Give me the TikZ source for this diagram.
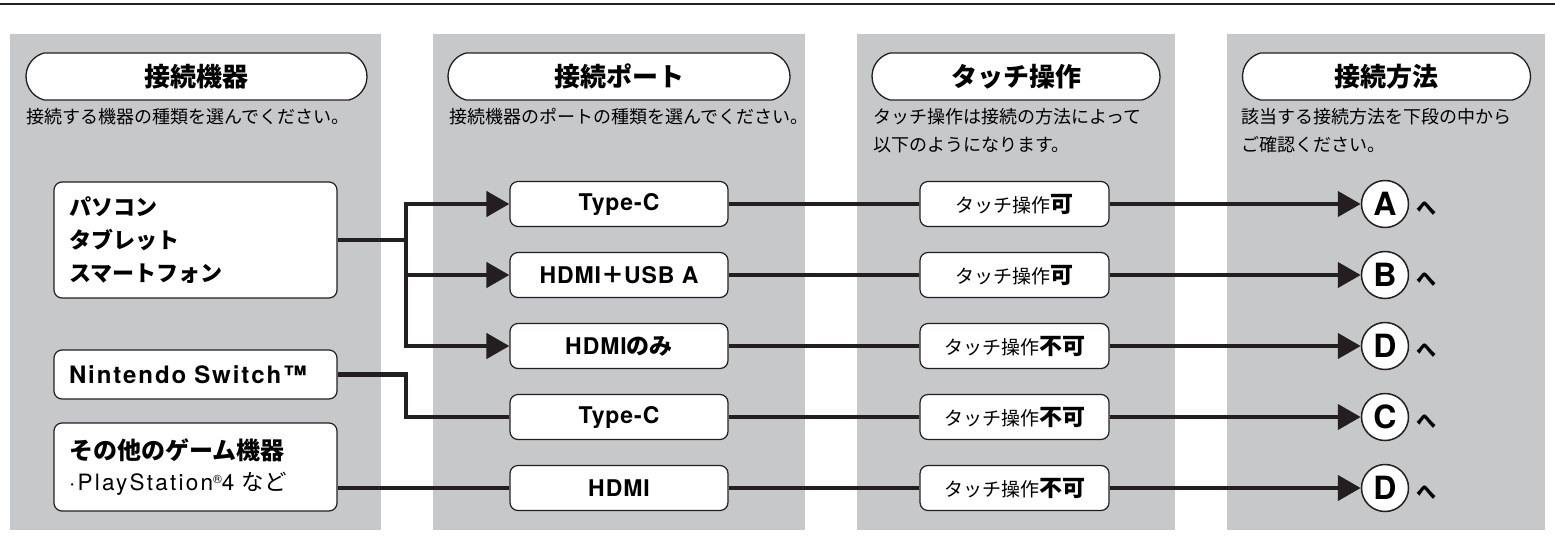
\documentclass[tikz,border=0pt]{standalone}
\usepackage{fontspec}
\setmainfont{Noto Sans CJK JP}
\newfontfamily\latfont[LetterSpace=4]{TeX Gyre Heros}
\usetikzlibrary{arrows.meta,positioning,shapes.misc}
\definecolor{panelgray}{RGB}{199,200,202}
\definecolor{ink}{RGB}{35,31,32}
\newcommand{\lat}[1]{{\latfont #1}}
\newcommand{\fsz}[1]{\fontsize{#1}{#1}\selectfont}

\begin{document}
\begin{tikzpicture}
    [x=1pt,y=-1pt,
     pill/.style={draw=ink,line width=1.3pt,fill=white,rounded rectangle,
       rounded rectangle arc length=150,minimum height=47pt,inner sep=0pt,
       font=\bfseries\fsz{26}},
     sub/.style={anchor=west,inner sep=0pt,align=left,
       font=\fontsize{18}{28}\selectfont},
     devbox/.style={draw=ink,line width=1.2pt,fill=white,rounded corners=8pt,
       inner xsep=15pt,text width=253pt,align=left},
     portbox/.style={draw=ink,line width=1.2pt,fill=white,rounded corners=8pt,
       minimum width=218pt,minimum height=45pt,inner sep=0pt,font=\bfseries\fsz{23}},
     touchbox/.style={draw=ink,line width=1.2pt,fill=white,rounded corners=8pt,
       minimum width=189pt,minimum height=45pt,inner sep=0pt},
     letter/.style={circle,draw=ink,line width=1.5pt,fill=white,minimum size=47pt,
       inner sep=0pt,font=\latfont\bfseries\fsz{32}},
     hira/.style={inner sep=0pt,font=\bfseries\fsz{20}},
     conn/.style={draw=ink,line width=4.5pt},
     arr/.style={conn,-{Triangle[length=23pt,width=25pt]}}]
    \useasboundingbox (0,0) rectangle (1555,555);
    \draw[ink,line width=2.5pt] (0,4) -- (1555,4);

    % panels
    \fill[panelgray] (10,34) rectangle (381,530);
    \fill[panelgray] (433,34) rectangle (805,530);
    \fill[panelgray] (857,34) rectangle (1175,530);
    \fill[panelgray] (1227,34) rectangle (1545,530);

    % headers
    \node[pill,minimum width=341pt] (h1) at (196.5,76.5) {接続機器};
    \node[pill,minimum width=342pt] (h2) at (619,76.5) {接続ポート};
    \node[pill,minimum width=288pt] (h3) at (1016,76.5) {タッチ操作};
    \node[pill,minimum width=288pt] (h4) at (1386.5,76.5) {接続方法};
    \node[sub] (s1) at (26,117) {接続する機器の種類を選んでください。};
    \node[sub] (s2) at (449,117) {接続機器のポートの種類を選んでください。};
    \node[sub] (s3) at (873,131) {タッチ操作は接続の方法によって\\以下のようになります。};
    \node[sub] (s4) at (1241,131) {該当する接続方法を下段の中から\\ご確認ください。};

    % devices
    \node[devbox,minimum height=116pt,font=\bfseries\fontsize{22}{33}\selectfont]
      (pc) at (195.5,240) {パソコン\\タブレット\\スマートフォン};
    \node[devbox,minimum height=49pt,font=\bfseries\fsz{24}]
      (ns) at (195.5,374.5) {\lat{\addfontfeature{LetterSpace=8}Nintendo Switch™}};
    \node[devbox,minimum height=88pt,font=\fontsize{22.5}{31}\selectfont]
      (og) at (195.5,467) {{\bfseries\fsz{24}その他のゲーム機器}\\
      \lat{\addfontfeature{LetterSpace=10}·PlayStation}{\fsz{12}\raisebox{7pt}{\lat{®}}}\lat{4} など};

    % ports
    \begin{scope}[node distance=24.8pt]
      \node[portbox] (tc) at (619,204) {\lat{Type-C}};
      \node[portbox,below=of tc] (hu) {\lat{HDMI}＋\lat{USB A}};
      \node[portbox,below=of hu] (ho) {\lat{HDMI}のみ};
      \node[portbox,below=of ho] (ts) {\lat{Type-C}};
      \node[portbox,below=of ts] (hd) {\lat{HDMI}};
    \end{scope}

    % touch
    \begin{scope}[node distance=190.8pt]
      \node[touchbox,right=of tc] (t1) {{\fsz{19}タッチ操作}{\bfseries\fsz{23}可}};
      \node[touchbox,right=of hu] (t2) {{\fsz{19}タッチ操作}{\bfseries\fsz{23}可}};
      \node[touchbox,right=of ho] (t3) {{\fsz{19}タッチ操作}{\bfseries\fsz{23}不可}};
      \node[touchbox,right=of ts] (t4) {{\fsz{19}タッチ操作}{\bfseries\fsz{23}不可}};
      \node[touchbox,right=of hd] (t5) {{\fsz{19}タッチ操作}{\bfseries\fsz{23}不可}};
    \end{scope}

    % methods
    \foreach \t/\c/\l in {t1/c1/A,t2/c2/B,t3/c3/D,t4/c4/C,t5/c5/D} {
      \node[letter] (\c) at (1385,0 |- \t) {\l};
      \node[hira,right=7pt of \c,yshift=-4pt] (\c h) {へ};
    }

    % connectors
    \coordinate (fork) at (406,240);
    \draw[conn] (pc.east) -- (fork);
    \foreach \p in {tc,hu,ho} {
      \draw[arr] (fork) |- (\p.west);
    }
    \draw[conn] (ns.east) -- (ns.east -| fork) |- (ts.west);
    \draw[conn] (og.east |- hd.west) -- (hd.west);
    \foreach \p/\t/\c in {tc/t1/c1,hu/t2/c2,ho/t3/c3,ts/t4/c4,hd/t5/c5} {
      \draw[conn] (\p) -- (\t);
      \draw[arr] (\t) -- (\c);
    }
\end{tikzpicture}
\end{document}
